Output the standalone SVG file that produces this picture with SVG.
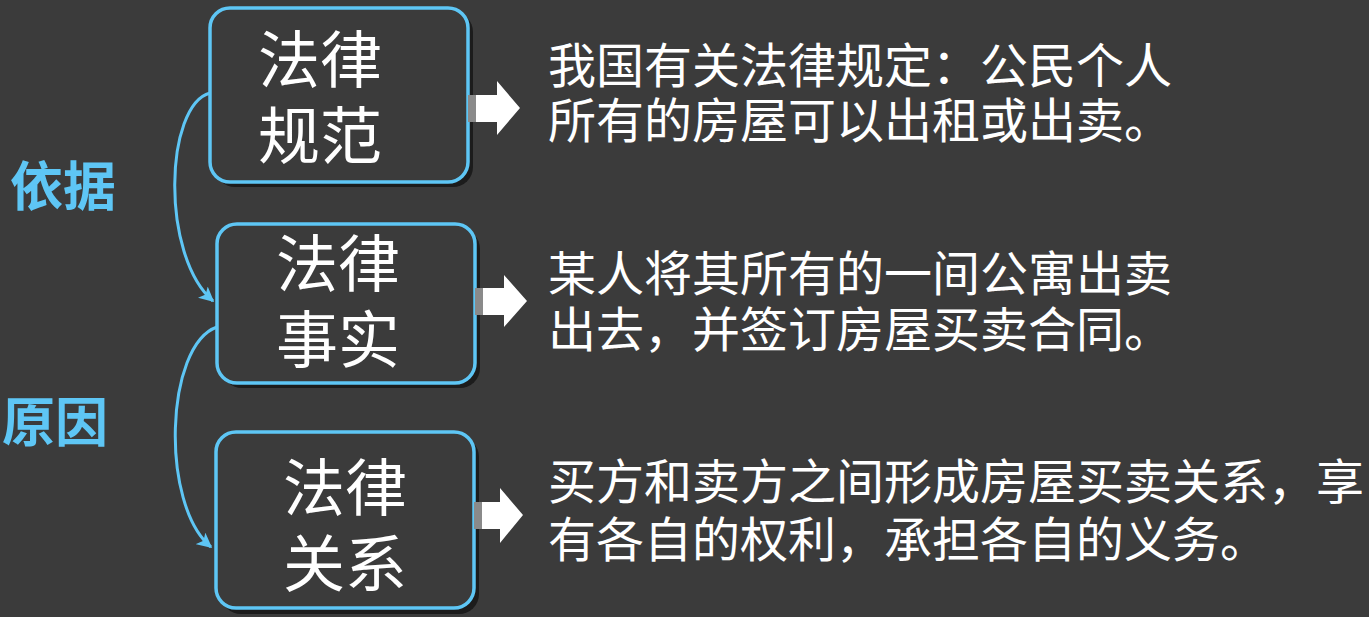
<svg xmlns="http://www.w3.org/2000/svg" width="1369" height="617" viewBox="0 0 1369 617">
<style>
.box{fill:#3b3b3b;stroke:#5ec6f5;stroke-width:3.5}
.shadow{fill:#1c1c1c}
.bt{font-family:"Noto Sans CJK SC","Noto Sans CJK JP",sans-serif;font-size:62px;fill:#ffffff;text-anchor:middle;dominant-baseline:central}
.rt{font-family:"Noto Sans CJK SC","Noto Sans CJK JP",sans-serif;font-size:48px;fill:#ffffff;dominant-baseline:central}
.lb{font-family:"Noto Sans CJK SC","Noto Sans CJK JP",sans-serif;font-size:53px;font-weight:bold;fill:#5ec6f5;text-anchor:middle;dominant-baseline:central}
.conn{fill:none;stroke:#5ec6f5;stroke-width:3}
.stub{fill:#8a8a8a}
.arr{fill:#ffffff}
</style>
<defs>
<marker id="ah" viewBox="0 0 10 10" refX="9" refY="5" markerWidth="5" markerHeight="5" orient="auto" markerUnits="strokeWidth">
<path d="M0,0 L10,5 L0,10 L2.5,5 Z" fill="#5ec6f5"/>
</marker>
</defs>
<rect width="1369" height="617" fill="#3b3b3b"/>
<g id="connectors">
<path class="conn" d="M210,93 C165,105 160,255 213,301" marker-end="url(#ah)"/>
<path class="conn" d="M217,327 C165,345 160,505 211,547" marker-end="url(#ah)"/>
</g>
<g id="label-yiju"><text class="lb" x="63" y="183">依据</text></g>
<g id="label-yuanyin"><text class="lb" x="55" y="419">原因</text></g>
<g id="node-guifan">
<rect class="shadow" x="215" y="12" width="258" height="175" rx="20"/>
<rect class="box" x="210" y="8" width="258" height="174" rx="20"/>
<text class="bt"><tspan x="320" y="56">法律</tspan><tspan x="320" y="132">规范</tspan></text>
</g>
<g id="node-shishi">
<rect class="shadow" x="222" y="229" width="258" height="159" rx="20"/>
<rect class="box" x="217" y="224" width="258" height="159" rx="20"/>
<text class="bt"><tspan x="338" y="260">法律</tspan><tspan x="338" y="336">事实</tspan></text>
</g>
<g id="node-guanxi">
<rect class="shadow" x="221" y="437" width="258" height="177" rx="20"/>
<rect class="box" x="216" y="432" width="258" height="176" rx="20"/>
<text class="bt"><tspan x="345" y="484">法律</tspan><tspan x="345" y="560">关系</tspan></text>
</g>
<g id="arrow-1">
<rect class="stub" x="468" y="95" width="9" height="27"/>
<path class="arr" d="M476,95 L497,95 L497,81 L520,108 L497,135 L497,122 L476,122 Z"/>
</g>
<g id="arrow-2">
<rect class="stub" x="475" y="288" width="9" height="27"/>
<path class="arr" d="M483,288 L504,288 L504,275 L527,301 L504,327 L504,315 L483,315 Z"/>
</g>
<g id="arrow-3">
<rect class="stub" x="474" y="502" width="9" height="27"/>
<path class="arr" d="M482,502 L500,502 L500,488 L523,515 L500,543 L500,529 L482,529 Z"/>
</g>
<g id="text-1">
<text class="rt"><tspan x="548" y="62">我国有关法律规定：公民个人</tspan><tspan x="548" y="117">所有的房屋可以出租或出卖。</tspan></text>
</g>
<g id="text-2">
<text class="rt"><tspan x="548" y="270">某人将其所有的一间公寓出卖</tspan><tspan x="548" y="326">出去，并签订房屋买卖合同。</tspan></text>
</g>
<g id="text-3">
<text class="rt"><tspan x="548" y="478">买方和卖方之间形成房屋买卖关系，享</tspan><tspan x="548" y="536">有各自的权利，承担各自的义务。</tspan></text>
</g>
</svg>
